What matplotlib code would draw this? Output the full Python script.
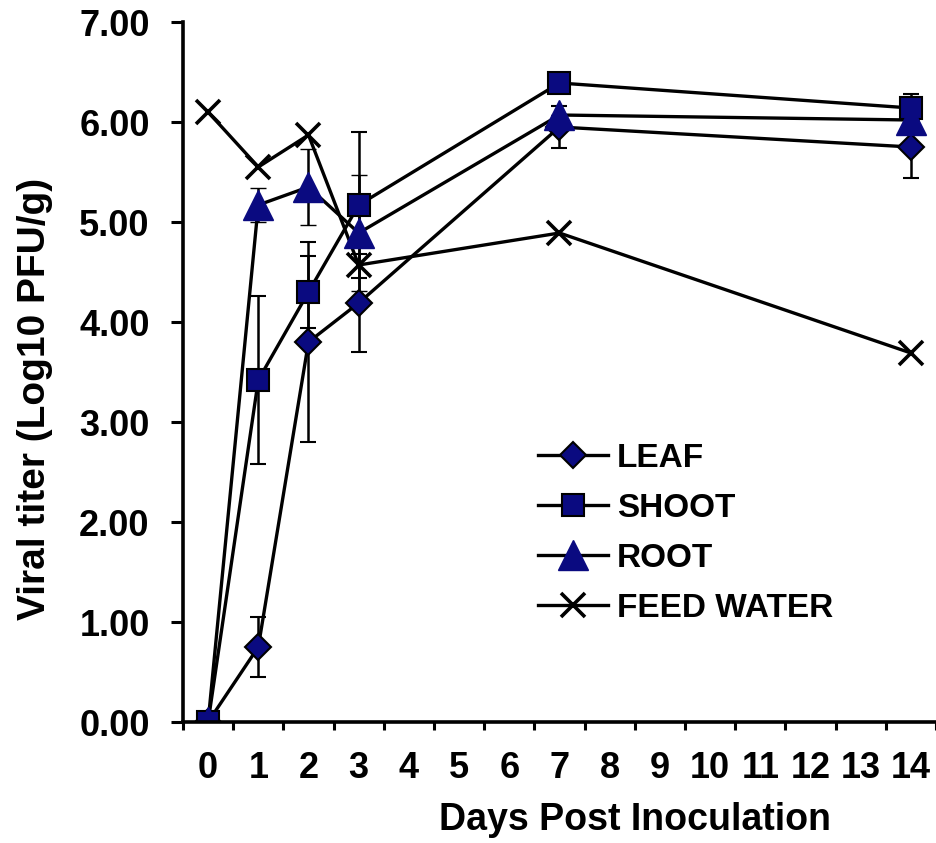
import numpy as np
import matplotlib.pyplot as plt
from matplotlib.lines import Line2D

# Days post inoculation (categories 0..14), sampled days
days = [0, 1, 2, 3, 7, 14]
day_labels = [str(d) for d in range(15)]

# Mean viral titer (Log10 PFU/g) and standard deviations
leaf = [0.00, 0.75, 3.80, 4.19, 5.95, 5.75]
leaf_err = [0.00, 0.30, 1.00, 0.49, 0.21, 0.31]
shoot = [0.00, 3.42, 4.30, 5.17, 6.39, 6.14]
shoot_err = [0.00, 0.84, 0.36, 0.73, 0.00, 0.14]
root = [0.00, 5.17, 5.35, 4.89, 6.07, 6.02]
root_err = [0.00, 0.17, 0.38, 0.58, 0.00, 0.00]
feed_water = [6.10, 5.55, 5.87, 4.57, 4.89, 3.69]

plt.rcParams['font.family'] = ['Liberation Sans', 'DejaVu Sans']
plt.rcParams['font.weight'] = 'bold'

fig = plt.figure(figsize=(9.37, 8.43), dpi=100)
ax = fig.add_axes([183 / 937, 121 / 843, 753 / 937, 700 / 843])

navy = '#0a0a80'
lw = 2.4
err_kw = dict(ecolor='black', elinewidth=1.8, capsize=6, capthick=1.8)
styles = {
    'LEAF': dict(marker='D', ms=13, mfc=navy, mec='black', mew=1.5),
    'SHOOT': dict(marker='s', ms=16, mfc=navy, mec='black', mew=1.5),
    'ROOT': dict(marker='^', ms=22, mfc=navy, mec=navy, mew=1.0),
    'FEED WATER': dict(marker='x', ms=17, mew=2.6, mec='black'),
}

ax.errorbar(days, leaf, yerr=leaf_err, color='black', lw=lw, **styles['LEAF'], **err_kw)
ax.errorbar(days, shoot, yerr=shoot_err, color='black', lw=lw, **styles['SHOOT'], **err_kw)
ax.errorbar(days, root, yerr=root_err, color='black', lw=lw, **styles['ROOT'], **err_kw)
ax.plot(days, feed_water, color='black', lw=lw, **styles['FEED WATER'])

ax.set_xlim(-0.5, 14.5)
ax.set_ylim(0, 7)
yticks = np.arange(0, 7.01, 1.0)
ax.set_yticks(yticks)
ax.set_yticklabels([f'{v:.2f}' for v in yticks], fontsize=26, fontweight='bold')
ax.set_xticks(range(15))
ax.set_xticklabels(day_labels, fontsize=26, fontweight='bold')
ax.set_xticks(np.arange(-0.5, 14.6, 1.0), minor=True)
ax.tick_params(axis='x', which='major', length=0, pad=21)
ax.tick_params(axis='x', which='minor', length=6, width=2.2, direction='out')
ax.tick_params(axis='y', length=9, width=2.2, direction='out', pad=15)

for side in ('top', 'right'):
    ax.spines[side].set_visible(False)
for side in ('left', 'bottom'):
    ax.spines[side].set_linewidth(2.6)

ax.set_xlabel('Days Post Inoculation', fontsize=27, fontweight='bold')
ax.xaxis.set_label_coords(0.600, -0.114)
ax.set_ylabel('Viral titer (Log10 PFU/g)', fontsize=28, fontweight='bold')
ax.yaxis.set_label_coords(-0.173, 0.461)

handles = [Line2D([], [], color='black', lw=lw, **styles[name]) for name in styles]
fig.legend(handles, list(styles), loc='upper left',
           bbox_to_anchor=(538 / 937, 400 / 843), frameon=False, fontsize=24,
           handlelength=2.1, handletextpad=0.27, labelspacing=0.57,
           borderpad=0, borderaxespad=0)

fig.savefig('out.png', dpi=100)
